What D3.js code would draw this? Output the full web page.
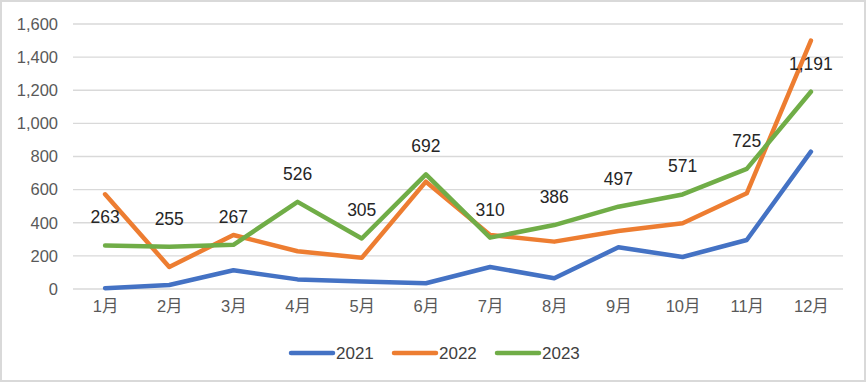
<!DOCTYPE html>
<html><head><meta charset="utf-8">
<script src="https://cdn.jsdelivr.net/npm/d3@7"></script>
<style>body{margin:0;background:#fff}svg{display:block}</style>
</head><body><div id="chart"></div>
<script>
const months = ["1月","2月","3月","4月","5月","6月","7月","8月","9月","10月","11月","12月"];
const s2021 = [5,24,113,58,45,35,133,65,252,193,296,829];
const s2022 = [572,133,326,228,188,648,326,286,350,397,578,1500];
const s2023 = [263,255,267,526,305,692,310,386,497,571,725,1191];
const yTicks = [0,200,400,600,800,1000,1200,1400,1600];
const seriesNames = ["2021","2022","2023"];
const colors = ["#4472C4","#ED7D31","#70AD47"];

const W=867,H=383;
const font = "'Liberation Sans','Noto Sans CJK SC',Arial,sans-serif";
const svg = d3.select("#chart").append("svg").attr("width",W).attr("height",H);
svg.append("rect").attr("x",1).attr("y",1).attr("width",864).attr("height",380)
  .attr("fill","#fff").attr("stroke","#d9d9d9").attr("stroke-width",2);

const x = d3.scalePoint().domain(months).range([73,843]).padding(0.5);
const y = d3.scaleLinear().domain([0,1600]).range([289,24]);

// gridlines
svg.append("g").selectAll("line").data(yTicks).join("line")
  .attr("x1",73).attr("x2",843).attr("y1",d=>y(d)).attr("y2",d=>y(d))
  .attr("stroke","#d9d9d9").attr("stroke-width",1.3);

// y axis labels
const yAxis = d3.axisLeft(y).tickValues(yTicks).tickSize(0).tickPadding(0).tickFormat(d3.format(","));
const gy = svg.append("g").attr("transform","translate(58,0)").call(yAxis);
gy.select(".domain").remove();
gy.selectAll("text").attr("font-family",font).attr("font-size",16.5).attr("fill","#595959");

// x axis labels
const xAxis = d3.axisBottom(x).tickSize(0).tickPadding(0);
const gx = svg.append("g").attr("transform","translate(0,300)").call(xAxis);
gx.select(".domain").remove();
gx.selectAll("text").attr("font-family",font).attr("font-size",16.5).attr("fill","#595959").attr("dy","0.71em");

const data = [s2021,s2022,s2023];
const line = d3.line().x((d,i)=>x(months[i])).y(d=>y(d));
data.forEach((s,k)=>{
  svg.append("path").datum(s).attr("d",line).attr("fill","none")
    .attr("stroke",colors[k]).attr("stroke-width",4.5)
    .attr("stroke-linejoin","round").attr("stroke-linecap","round");
});

// data labels for 2023
svg.append("g").selectAll("text").data(s2023).join("text")
  .attr("x",(d,i)=>x(months[i])).attr("y",d=>y(d)-22)
  .attr("text-anchor","middle").attr("font-family",font).attr("font-size",17.5)
  .attr("fill","#262626").text(d=>d3.format(",")(d));

// legend
const legX = [291,394,497];
const lg = svg.append("g");
seriesNames.forEach((n,k)=>{
  lg.append("line").attr("x1",legX[k]).attr("x2",legX[k]+42).attr("y1",353).attr("y2",353)
    .attr("stroke",colors[k]).attr("stroke-width",4.5).attr("stroke-linecap","round");
  lg.append("text").attr("x",legX[k]+45).attr("y",359).attr("font-family",font)
    .attr("font-size",17).attr("fill","#404040").text(n);
});
</script></body></html>
